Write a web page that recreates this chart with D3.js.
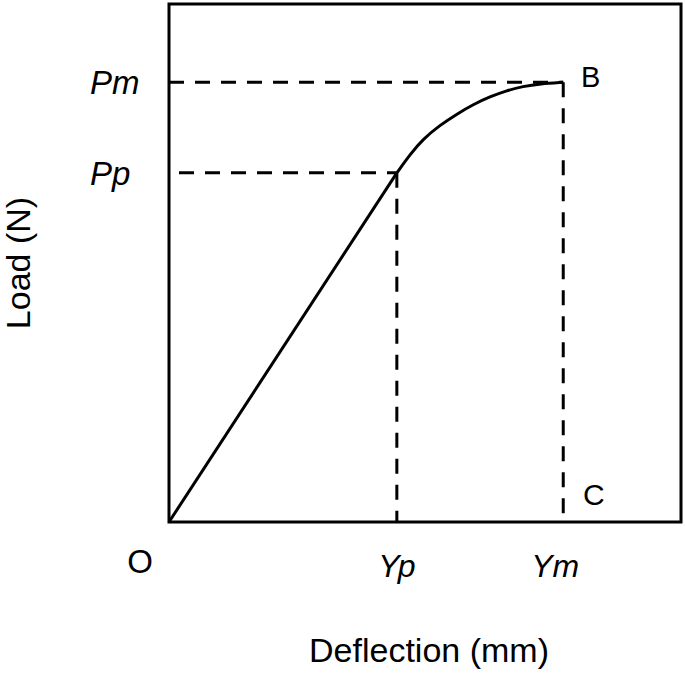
<!DOCTYPE html>
<html>
<head>
<meta charset="utf-8">
<script src="https://d3js.org/d3.v7.min.js"></script>
<style>
  body { margin: 0; background: #fff; }
  text { font-family: "Liberation Sans", Arial, sans-serif; fill: #000; }
</style>
</head>
<body>
<div id="chart"></div>
<script>
// load-deflection curve (axis units 0..100)
var elasticDeflection = [0, 44.5];
var elasticLoad = [0, 67.4];
var plasticDeflection = [44.5, 47.1, 49.6, 52.9, 56.3, 59.4, 62.7, 66.0, 69.1, 72.5, 77.0];
var plasticLoad = [67.4, 71.0, 73.9, 76.6, 78.8, 80.6, 82.1, 83.3, 84.1, 84.6, 84.9];

// marked points
var pointNames = ["Yp", "Ym"];
var pointDeflection = [44.5, 77.0];
var loadNames = ["Pp", "Pm"];
var loadValues = [67.4, 84.9];

var width = 685, height = 674;
var margin = {top: 4, right: 4, bottom: 152, left: 169};

var svg = d3.select("#chart")
  .append("svg")
    .attr("width", width)
    .attr("height", height);

var x = d3.scaleLinear()
    .domain([0, 100])
    .range([margin.left, width - margin.right]);

var y = d3.scaleLinear()
    .domain([0, 100])
    .range([height - margin.bottom, margin.top]);

var elastic = elasticDeflection.map(function(d, i) { return {x: d, y: elasticLoad[i]}; });
var plastic = plasticDeflection.map(function(d, i) { return {x: d, y: plasticLoad[i]}; });

// dashed guides
var dash = "15,11";
loadValues.forEach(function(v, i) {
  var gap = i == 0 ? 10 : 0;
  svg.append("line")
    .attr("x1", x(0) + gap).attr("x2", x(pointDeflection[i]))
    .attr("y1", y(v)).attr("y2", y(v))
    .attr("stroke", "#000").attr("stroke-width", 3)
    .attr("stroke-dasharray", dash);
  svg.append("line")
    .attr("x1", x(pointDeflection[i])).attr("x2", x(pointDeflection[i]))
    .attr("y1", y(v)).attr("y2", y(0))
    .attr("stroke", "#000").attr("stroke-width", 3)
    .attr("stroke-dasharray", dash);
});

var line = d3.line()
  .x(function(p) { return x(p.x); })
  .y(function(p) { return y(p.y); });

svg.append("path")
  .attr("d", line.curve(d3.curveLinear)(elastic))
  .attr("fill", "none").attr("stroke", "#000").attr("stroke-width", 3);

svg.append("path")
  .attr("d", line.curve(d3.curveBasis)(plastic))
  .attr("fill", "none").attr("stroke", "#000").attr("stroke-width", 3);

// frame
svg.append("rect")
  .attr("x", x(0)).attr("y", y(100))
  .attr("width", x(100) - x(0)).attr("height", y(0) - y(100))
  .attr("fill", "none").attr("stroke", "#000").attr("stroke-width", 3);

// load labels
loadNames.forEach(function(n, i) {
  svg.append("text")
    .attr("x", 90).attr("y", y(loadValues[i]) + 12)
    .style("font-size", "33px").style("font-style", "italic")
    .text(n);
});

// deflection labels
pointNames.forEach(function(n, i) {
  svg.append("text")
    .attr("x", x(pointDeflection[i]) - (i == 0 ? 0 : 8))
    .attr("y", 577)
    .attr("text-anchor", "middle")
    .style("font-size", "32px").style("font-style", "italic")
    .text(n);
});

svg.append("text").attr("x", 140).attr("y", 573).attr("text-anchor", "middle")
  .style("font-size", "33px").text("O");
svg.append("text").attr("x", 581).attr("y", 87)
  .style("font-size", "29px").text("B");
svg.append("text").attr("x", 583).attr("y", 505)
  .style("font-size", "30px").text("C");

// axis titles
svg.append("text")
  .attr("x", 429).attr("y", 662).attr("text-anchor", "middle")
  .style("font-size", "34px").text("Deflection (mm)");

svg.append("text")
  .attr("transform", "translate(30,263)rotate(-90)")
  .attr("text-anchor", "middle")
  .style("font-size", "34px").text("Load (N)");
</script>
</body>
</html>
